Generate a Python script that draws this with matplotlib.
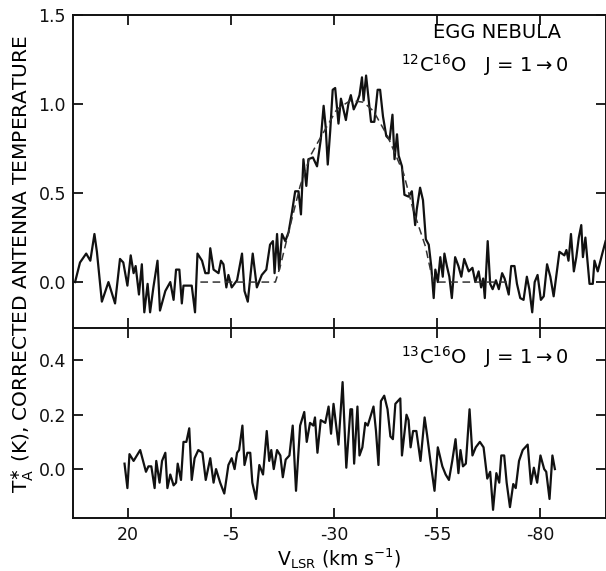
import matplotlib
matplotlib.use("Agg")
import matplotlib.pyplot as plt

plt.rcParams['font.family'] = ['DejaVu Sans']
plt.rcParams['axes.unicode_minus'] = False
plt.rcParams['mathtext.fontset'] = 'dejavusans'

# 12C16O J=1-0 spectrum (velocity km/s, T_A* K)
v12 = [32.8, 31.6, 30.1, 29.1, 28.1, 27.5, 26.3, 24.7, 23.1, 21.9, 21.1, 20.1, 19.3, 18.6, 18.1,
       17.3, 16.6, 16.0, 15.2, 14.6, 13.8, 12.8, 12.2, 10.9, 9.7, 8.9, 8.3, 7.5, 6.9, 6.5,
       4.5, 3.7, 3.1, 2.0, 1.2, 0.4, 0.0, -0.8, -2.0, -2.6, -3.2, -3.9, -4.4, -5.2, -6.5,
       -7.7, -8.3, -9.1, -10.3, -11.3, -12.5, -13.6, -14.5, -15.2, -15.6, -16.2, -16.7, -17.4, -18.2, -19.0,
       -19.8, -20.6, -21.4, -22.0, -22.6, -23.3, -23.8, -24.9, -25.9, -26.8, -27.5, -28.0, -28.5, -29.1, -29.7,
       -30.3, -31.1, -31.7, -32.3, -32.9, -33.5, -34.1, -34.8, -35.6, -36.2, -36.8, -37.2, -37.8, -38.3, -39.0,
       -39.8, -40.6, -41.2, -41.9, -42.7, -43.5, -44.2, -44.7, -45.3, -45.7, -46.5, -47.1, -48.1, -48.9, -49.7,
       -50.1, -50.9, -51.6, -52.3, -53.0, -53.6, -54.2, -54.6, -55.2, -55.8, -56.4, -56.8, -57.4, -58.0, -58.6,
       -59.4, -60.2, -60.9, -61.6, -62.7, -63.6, -64.3, -65.1, -65.7, -66.2, -66.6, -67.3, -67.9, -68.5, -69.3,
       -70.0, -70.8, -71.4, -72.4, -73.0, -73.8, -74.4, -75.2, -76.0, -76.8, -77.4, -78.1, -78.7, -79.4, -80.2,
       -80.9, -81.7, -82.5, -83.3, -84.7, -85.3, -85.9, -86.4, -86.9, -87.5, -88.2, -88.8, -89.4, -90.0, -90.4,
       -91.0, -92.0, -92.8, -93.2, -94.0, -95.1, -95.9]
t12 = [0.00, 0.11, 0.16, 0.12, 0.27, 0.17, -0.11, 0.00, -0.12, 0.13, 0.11, -0.02, 0.15, 0.05, 0.09,
       -0.07, 0.10, -0.17, -0.01, -0.17, -0.03, 0.12, -0.16, -0.05, 0.00, -0.10, 0.07, 0.07, -0.12, -0.02,
       -0.02, -0.17, 0.16, 0.12, 0.05, 0.05, 0.19, 0.07, 0.05, 0.12, 0.10, -0.03, 0.04, -0.03, 0.01,
       0.16, -0.05, -0.11, 0.16, -0.03, 0.04, 0.07, 0.21, 0.23, 0.05, 0.27, 0.07, 0.27, 0.23, 0.28,
       0.39, 0.51, 0.51, 0.38, 0.69, 0.54, 0.69, 0.70, 0.65, 0.80, 0.99, 0.87, 0.66, 0.85, 1.08,
       1.09, 0.89, 1.03, 0.97, 0.91, 1.00, 1.05, 0.97, 1.01, 1.05, 1.15, 1.02, 1.16, 1.05, 0.90,
       0.90, 1.08, 1.08, 0.93, 0.82, 0.80, 0.94, 0.69, 0.83, 0.71, 0.65, 0.49, 0.48, 0.51, 0.32,
       0.41, 0.53, 0.46, 0.24, 0.21, 0.09, -0.09, 0.07, 0.00, 0.14, 0.03, 0.16, 0.09, 0.03, -0.09,
       0.14, 0.09, 0.03, 0.13, 0.06, 0.08, 0.00, 0.06, -0.03, 0.02, -0.09, 0.23, -0.01, -0.04, 0.01,
       -0.04, 0.05, 0.02, -0.07, 0.09, 0.09, -0.01, -0.09, -0.10, 0.03, -0.04, -0.17, 0.00, 0.04, -0.10,
       -0.08, 0.10, 0.03, -0.08, 0.17, 0.16, 0.15, 0.18, 0.12, 0.27, 0.06, 0.14, 0.25, 0.32, 0.14,
       0.25, -0.01, -0.01, 0.12, 0.06, 0.16, 0.23]

# fitted profile (dashed)
v_fit = [2.4, -15.8, -17.0, -19.0, -21.8, -24.3, -26.7, -30.7, -34.0, -37.2, -39.6, -43.0, -46.9,
         -49.3, -52.2, -53.4, -54.2, -72.0]
t_fit = [0.0, 0.0, 0.09, 0.28, 0.54, 0.71, 0.81, 0.97, 1.02, 1.01, 0.96, 0.82, 0.61,
         0.40, 0.20, 0.07, 0.0, 0.0]

# 13C16O J=1-0 spectrum
v13 = [20.8, 20.1, 19.6, 18.6, 17.0, 15.6, 15.0, 14.3, 13.5, 13.1, 12.3, 11.7, 10.9, 10.4, 9.7,
       8.9, 8.3, 7.9, 7.1, 6.5, 5.8, 5.1, 4.5, 3.8, 2.9, 1.9, 1.1, 0.0, -0.8, -1.4,
       -2.4, -3.4, -4.4, -5.2, -5.9, -6.5, -7.0, -7.8, -8.3, -9.0, -9.7, -10.2, -11.1, -11.9, -12.8,
       -13.7, -14.3, -14.8, -15.4, -16.2, -17.0, -17.6, -18.3, -19.2, -20.0, -20.8, -21.8, -22.8, -23.4, -24.2,
       -25.0, -25.4, -26.0, -26.8, -27.9, -28.7, -29.3, -29.9, -31.1, -32.1, -33.0, -34.0, -34.4, -34.9, -35.7,
       -36.2, -36.9, -37.6, -38.2, -38.8, -39.6, -40.2, -40.8, -41.4, -42.2, -43.0, -43.7, -44.3, -44.9, -46.1,
       -46.5, -47.6, -48.1, -48.6, -49.2, -50.0, -51.0, -52.0, -52.6, -53.4, -54.4, -55.2, -56.3, -57.1, -57.9,
       -58.7, -59.5, -60.2, -60.7, -61.3, -62.0, -62.9, -63.6, -64.4, -65.4, -66.3, -67.2, -67.9, -68.6, -69.4,
       -70.1, -70.6, -71.3, -71.9, -72.7, -73.5, -74.1, -74.9, -75.8, -77.0, -77.8, -78.5, -79.3, -80.1, -81.0,
       -81.5, -82.3, -83.0, -83.6]
t13 = [0.02, -0.07, 0.055, 0.03, 0.07, -0.01, 0.01, 0.01, -0.07, 0.03, -0.05, 0.03, 0.06, -0.07, -0.02,
       -0.06, -0.05, 0.02, -0.04, 0.10, 0.10, 0.15, -0.04, 0.04, 0.07, 0.06, -0.04, 0.04, -0.05, 0.00,
       -0.05, -0.09, 0.015, 0.04, 0.00, 0.06, 0.07, 0.16, 0.015, 0.06, 0.06, -0.05, -0.11, 0.015, -0.02,
       0.14, 0.03, 0.07, 0.00, 0.07, 0.05, -0.03, 0.035, 0.05, 0.16, -0.08, 0.16, 0.21, 0.10, 0.17,
       0.16, 0.19, 0.06, 0.18, 0.17, 0.23, 0.13, 0.24, 0.09, 0.32, 0.005, 0.22, 0.22, 0.02, 0.23,
       0.05, 0.08, 0.17, 0.16, 0.19, 0.23, 0.14, 0.015, 0.25, 0.27, 0.22, 0.12, 0.11, 0.24, 0.26,
       0.05, 0.20, 0.18, 0.08, 0.14, 0.14, 0.03, 0.19, 0.125, 0.03, -0.08, 0.08, 0.01, -0.02, -0.04,
       0.03, 0.11, -0.015, 0.07, 0.01, 0.02, 0.22, 0.05, 0.08, 0.10, 0.08, -0.035, -0.01, -0.15, -0.015,
       -0.05, 0.05, 0.05, -0.05, -0.14, -0.055, -0.07, 0.03, 0.07, 0.09, -0.055, 0.005, -0.05, 0.05, 0.00,
       -0.01, -0.11, 0.05, 0.00]

xticks = [20, -5, -30, -55, -80]
xlabels = ["20", "-5", "-30", "-55", "-80"]

fig = plt.figure(figsize=(6.06, 5.71), dpi=100)
left, width = 73 / 606, 533 / 606
ax1 = fig.add_axes([left, 1 - 328 / 571, width, 313 / 571])
ax2 = fig.add_axes([left, 1 - 518 / 571, width, 190 / 571])

for ax in (ax1, ax2):
    ax.set_xlim(33.3, -96)
    ax.set_xticks(xticks)
    ax.tick_params(direction='in', length=7, width=1.3, top=True, right=True,
                   labelsize=12.5, pad=5, colors='#111111')
    for s in ax.spines.values():
        s.set_linewidth(1.4)
        s.set_color('#111111')

ax1.plot(v12, t12, color='#111111', lw=1.6)
ax1.plot(v_fit, t_fit, color='#333333', lw=1.1, ls=(0, (5, 3)))
ax1.set_ylim(-0.258, 1.5)
ax1.set_yticks([0.0, 0.5, 1.0, 1.5])
ax1.set_yticklabels(["0.0", "0.5", "1.0", "1.5"])
ax1.tick_params(labelbottom=False)
ax1.spines['bottom'].set_visible(False)

ax2.plot(v13, t13, color='#111111', lw=1.6)
ax2.set_ylim(-0.18, 0.519)
ax2.set_yticks([0.0, 0.2, 0.4])
ax2.set_yticklabels(["0.0", "0.2", "0.4"])
ax2.set_xticklabels(xlabels)
ax2.tick_params(axis='x', pad=6)

ax1.text(0.915, 0.945, "EGG NEBULA", transform=ax1.transAxes, ha='right', va='center', fontsize=14)
ax1.text(0.93, 0.84, r"$^{12}$C$^{16}$O   J = 1$\rightarrow$0", transform=ax1.transAxes,
         ha='right', va='center', fontsize=14)
ax2.text(0.93, 0.845, r"$^{13}$C$^{16}$O   J = 1$\rightarrow$0", transform=ax2.transAxes,
         ha='right', va='center', fontsize=14)

fig.text(0.038, 0.538, r"T$_{\mathrm{A}}^{\ast}$ (K), CORRECTED ANTENNA TEMPERATURE",
         rotation=90, ha='center', va='center', fontsize=14.5)
fig.text(left + width / 2, 0.0, r"V$_{\mathrm{LSR}}$ (km s$^{-1}$)",
         ha='center', va='bottom', fontsize=13.5)

fig.savefig("out.png", dpi=100)
